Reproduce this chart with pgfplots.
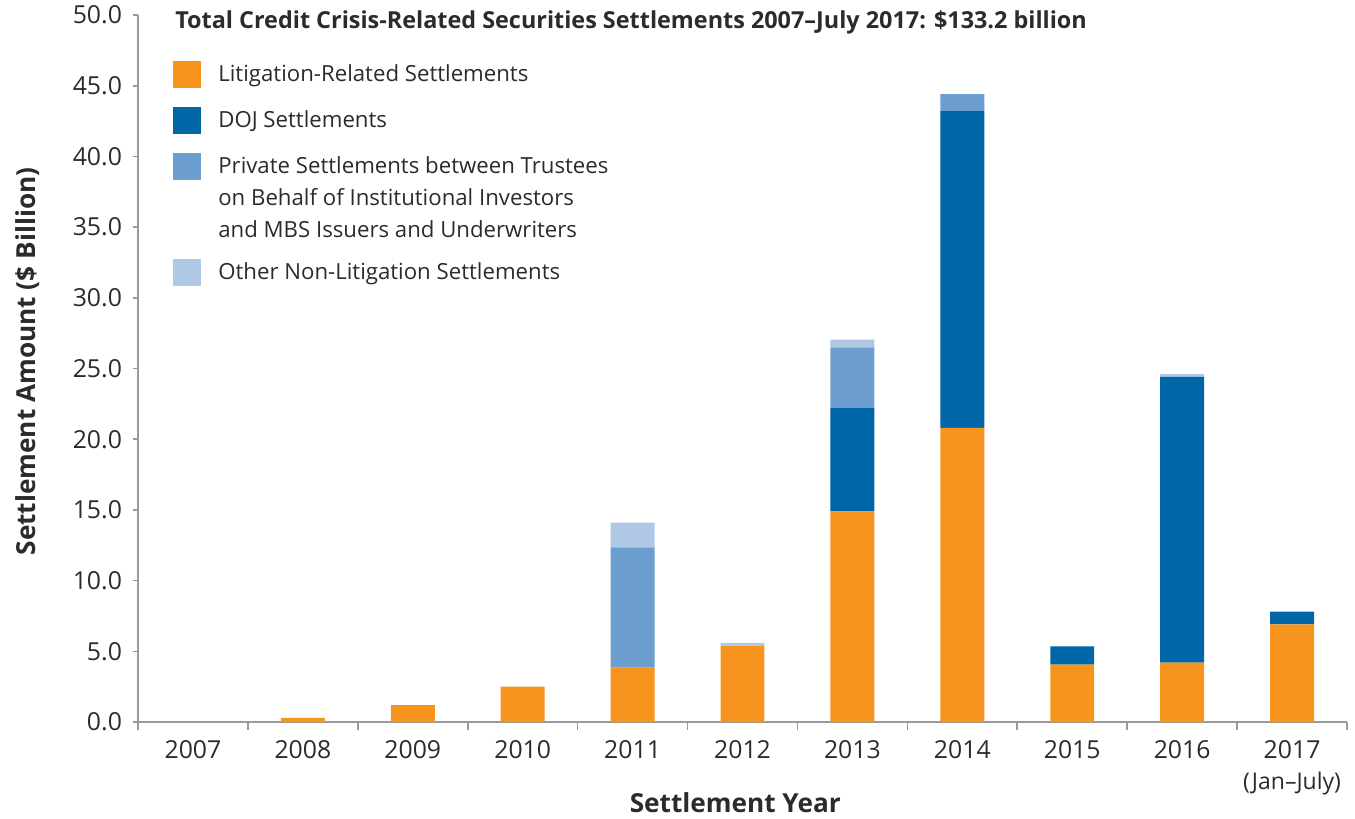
\documentclass[border=0pt]{standalone}
\usepackage{pgfplots}
\pgfplotsset{compat=1.18}
\usepackage{fontspec}
\setmainfont{Open Sans}
\definecolor{litc}{HTML}{F7941D}
\definecolor{dojc}{HTML}{0066A8}
\definecolor{privc}{HTML}{6C9FCF}
\definecolor{othc}{HTML}{AFC8E6}
\definecolor{txtc}{HTML}{2B2B2B}
\definecolor{axc}{HTML}{9A9A9A}
\newcommand{\hd}[2]{\rule[-#2]{0pt}{\dimexpr#1+#2\relax}}
\begin{document}
\begin{tikzpicture}
\path[use as bounding box] (-69pt,-48.5pt) rectangle (608.5pt,361pt);
\begin{axis}[
  at={(0pt,0pt)}, anchor=south west,
  scale only axis, width=604.5pt, height=353.5pt,
  clip=false,
  ybar stacked, bar width=0.4,
  xmin=-0.5, xmax=10.5, ymin=0, ymax=50,
  axis x line*=bottom, axis y line*=left,
  axis line style={axc, line width=0.8pt},
  every axis plot/.append style={draw=none},
  xtick={0,...,10},
  xticklabels={2007,2008,2009,2010,2011,2012,2013,2014,2015,2016,{2017\\[2.5pt]{\fontsize{11.5pt}{12pt}\selectfont(Jan--July)}}},
  minor xtick={-0.5,0.5,...,10.5},
  major x tick style={draw=none},
  minor x tick style={axc, line width=0.8pt},
  minor tick length=4pt,
  ytick={0,5,...,50},
  major y tick style={axc, line width=0.8pt},
  major tick length=2.5pt,
  tick align=outside,
  xticklabel style={font=\fontsize{12.4pt}{13pt}\selectfont, text=txtc, align=center, anchor=north, yshift=-3pt},
  yticklabel style={font=\fontsize{12.4pt}{13pt}\selectfont, text=txtc, xshift=-2pt},
  /pgf/number format/.cd, fixed, fixed zerofill, precision=1, assume math mode=true,
  /pgfplots/.cd,
  xlabel={Settlement Year}, ylabel={Settlement Amount (\$ Billion)},
  xlabel style={font=\bfseries\fontsize{13.1pt}{14pt}\selectfont, text=txtc, at={(axis description cs:0.494,-0.1146)}, anchor=center},
  ylabel style={font=\bfseries\fontsize{13.1pt}{14pt}\selectfont, text=txtc, at={(axis description cs:-0.0909,0.51)}, anchor=center},
  legend image code/.code={\fill[#1] (0pt,-3.5pt) rectangle (14pt,10pt);},
  legend cell align=left,
  legend style={draw=none, fill=none, inner sep=0pt, at={(rel axis cs:0.0289,0.9364)}, anchor=north west,
    font=\fontsize{11.1pt}{16pt}\selectfont, text=txtc, row sep=0pt, column sep=8.5pt,
    nodes={inner sep=0pt, text depth=, text height=, anchor=base west}},
]
\addplot[fill=litc] coordinates {(0,0) (1,0.3) (2,1.2) (3,2.5) (4,3.85) (5,5.4) (6,14.9) (7,20.8) (8,4.05) (9,4.2) (10,6.9)};
\addlegendentry{\hd{10.5pt}{12.5pt}Litigation-Related Settlements}
\addplot[fill=dojc] coordinates {(0,0) (1,0) (2,0) (3,0) (4,0) (5,0) (6,7.3) (7,22.4) (8,1.3) (9,20.2) (10,0.9)};
\addlegendentry{\hd{10.5pt}{12.5pt}DOJ Settlements}
\addplot[fill=privc] coordinates {(0,0) (1,0) (2,0) (3,0) (4,8.5) (5,0) (6,4.3) (7,1.2) (8,0) (9,0) (10,0)};
\addlegendentry{\hd{10.5pt}{7pt}Private Settlements between Trustees}
\addlegendimage{empty legend}
\addlegendentry{\hd{9pt}{7pt}on Behalf of Institutional Investors}
\addlegendimage{empty legend}
\addlegendentry{\hd{9pt}{10.5pt}and MBS Issuers and Underwriters}
\addplot[fill=othc] coordinates {(0,0) (1,0) (2,0) (3,0) (4,1.75) (5,0.2) (6,0.55) (7,0) (8,0) (9,0.2) (10,0)};
\addlegendentry{\hd{10.5pt}{4pt}Other Non-Litigation Settlements}
\node[anchor=base west, font=\bfseries\fontsize{11.7pt}{13pt}\selectfont, text=txtc] at (rel axis cs:0.025,0.9816) {Total Credit Crisis-Related Securities Settlements 2007--July 2017: \$133.2 billion};
\end{axis}
\end{tikzpicture}
\end{document}
